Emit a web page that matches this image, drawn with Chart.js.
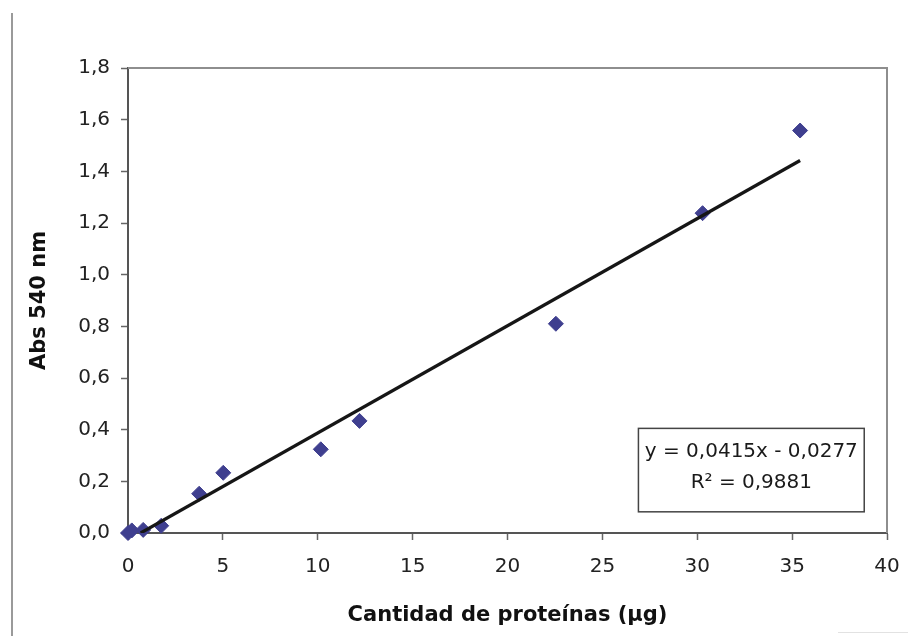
<!DOCTYPE html>
<html>
<head>
<meta charset="utf-8">
<script src="https://cdn.jsdelivr.net/npm/chart.js@4/dist/chart.umd.min.js"></script>
<style>
  html, body { margin: 0; padding: 0; background: #fff; }
  #wrap { width: 908px; height: 636px; }
</style>
</head>
<body>
<div id="wrap"><canvas id="curva" width="908" height="636"></canvas></div>
<script>
// Curva de calibración (Biuret): cantidad de proteína vs absorbancia
const proteinUg = [0, 0.2, 0.8, 1.75, 3.75, 5.02, 10.16, 12.2, 22.55, 30.28, 35.42];
const abs540 = [0, 0.01, 0.012, 0.028, 0.152, 0.233, 0.324, 0.434, 0.81, 1.238, 1.558];

// recta de tendencia, extremos
const trendX = [0.67, 35.42];
const trendY = [0.0, 1.442];

const equationLines = ['y = 0,0415x - 0,0277', 'R\u00b2 = 0,9881'];

const xTicks = [0, 5, 10, 15, 20, 25, 30, 35, 40];
const yTicks = [0, 0.2, 0.4, 0.6, 0.8, 1.0, 1.2, 1.4, 1.6, 1.8];

const FONT = 'DejaVu Sans';

const toPoints = (xs, ys) => xs.map((x, i) => ({ x: x, y: ys[i] }));

// Marco del área de gráfico, línea lateral y recuadro de la ecuación
const framePlugin = {
    id: 'frame',
    beforeDraw(chart) {
        const ctx = chart.ctx;
        ctx.save();
        ctx.strokeStyle = '#9a9a9a';
        ctx.lineWidth = 2;
        ctx.beginPath();
        ctx.moveTo(12, 13);
        ctx.lineTo(12, 636);
        ctx.stroke();
        ctx.strokeStyle = '#e2e2e2';
        ctx.lineWidth = 1;
        ctx.beginPath();
        ctx.moveTo(838, 632.5);
        ctx.lineTo(908, 632.5);
        ctx.stroke();
        ctx.restore();
    },
    beforeDatasetsDraw(chart) {
        const { ctx, chartArea: a } = chart;
        ctx.save();
        ctx.strokeStyle = '#8e8e8e';
        ctx.lineWidth = 2;
        ctx.beginPath();
        ctx.moveTo(a.left, a.top);
        ctx.lineTo(a.right, a.top);
        ctx.lineTo(a.right, a.bottom);
        ctx.stroke();
        ctx.restore();
    },
    afterDraw(chart, args, opts) {
        const { ctx, scales } = chart;
        const x0 = scales.x.getPixelForValue(opts.box[0]);
        const x1 = scales.x.getPixelForValue(opts.box[1]);
        const y0 = scales.y.getPixelForValue(opts.box[3]);
        const y1 = scales.y.getPixelForValue(opts.box[2]);
        ctx.save();
        ctx.fillStyle = '#fff';
        ctx.fillRect(x0, y0, x1 - x0, y1 - y0);
        ctx.strokeStyle = '#444';
        ctx.lineWidth = 1.5;
        ctx.strokeRect(x0, y0, x1 - x0, y1 - y0);
        ctx.fillStyle = '#1a1a1a';
        ctx.font = '20px "' + FONT + '"';
        ctx.textAlign = 'center';
        ctx.textBaseline = 'middle';
        const cx = (x0 + x1) / 2;
        const h = y1 - y0;
        opts.lines.forEach((t, i) => {
            ctx.fillText(t, cx, y0 + h * (0.28 + 0.37 * i));
        });
        ctx.restore();
    }
};

const ctx = document.getElementById('curva').getContext('2d');

new Chart(ctx, {
    type: 'scatter',
    data: {
        datasets: [
            {
                label: 'Abs 540 nm',
                data: toPoints(proteinUg, abs540),
                pointStyle: 'rectRot',
                pointRadius: 7.5,
                pointBorderWidth: 1,
                backgroundColor: '#3f3f8f',
                borderColor: '#3f3f8f',
                clip: false,
                order: 1
            },
            {
                type: 'line',
                label: 'Lineal',
                data: toPoints(trendX, trendY),
                borderColor: '#161616',
                borderWidth: 3.2,
                pointRadius: 0,
                fill: false,
                order: 0
            }
        ]
    },
    options: {
        responsive: false,
        animation: false,
        devicePixelRatio: 1,
        layout: { padding: { left: 14, right: 21, top: 68, bottom: 0 } },
        plugins: {
            legend: { display: false },
            tooltip: { enabled: false },
            frame: { box: [26.9, 38.8, 0.082, 0.405], lines: equationLines }
        },
        scales: {
            x: {
                type: 'linear',
                min: 0,
                max: 40,
                afterBuildTicks: s => { s.ticks = xTicks.map(v => ({ value: v })); },
                afterFit: s => { s.height = 103; s.paddingLeft = 0; s.paddingRight = 0; },
                grid: { drawOnChartArea: false, tickLength: 7, color: '#666', tickWidth: 1.5 },
                border: { color: '#555', width: 2 },
                ticks: {
                    padding: 15,
                    color: '#222',
                    font: { family: FONT, size: 20 }
                },
                title: {
                    display: true,
                    text: 'Cantidad de proteínas (µg)',
                    color: '#111',
                    font: { family: FONT, size: 21, weight: 'bold' },
                    padding: { top: 0, bottom: 8 }
                }
            },
            y: {
                type: 'linear',
                min: 0,
                max: 1.8,
                afterBuildTicks: s => { s.ticks = yTicks.map(v => ({ value: v })); },
                afterFit: s => { s.width = 114; },
                grid: { drawOnChartArea: false, tickLength: 7, color: '#666', tickWidth: 1.5 },
                border: { color: '#555', width: 2 },
                ticks: {
                    padding: 11,
                    color: '#222',
                    font: { family: FONT, size: 20 },
                    callback: v => v.toFixed(1).replace('.', ',')
                },
                title: {
                    display: true,
                    text: 'Abs 540 nm',
                    color: '#111',
                    font: { family: FONT, size: 21, weight: 'bold' },
                    padding: { top: 13, bottom: 0 }
                }
            }
        }
    },
    plugins: [framePlugin]
});
</script>
</body>
</html>
